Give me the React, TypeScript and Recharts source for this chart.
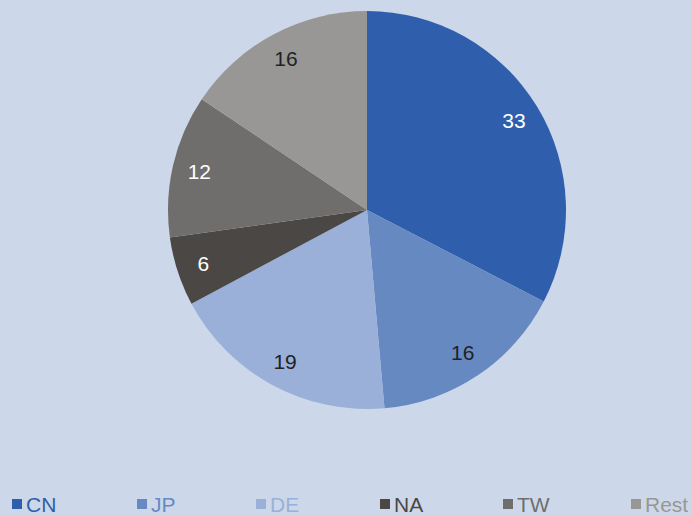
import { Cell, Pie, PieChart } from "recharts";

// shares in %, labels show them rounded
const labels = ["CN", "JP", "DE", "NA", "TW", "Rest"];
const values = [32.6, 16.0, 18.6, 5.6, 11.6, 15.6];
const colors = ["#2F5FAC", "#6689C2", "#9AB0D8", "#4B4745", "#6F6E6C", "#999795"];
const labelColors = ["#FFFFFF", "#222222", "#222222", "#FFFFFF", "#FFFFFF", "#222222"];

const DATA = labels.map((name, i) => ({ name, value: values[i] }));

// legend item x positions (px), spacing in the original is uneven
const LEGEND_LEFT = [12, 137, 256, 380, 503, 631];

const FONT = "'Liberation Sans', Arial, sans-serif";
const RADIAN = Math.PI / 180;

function renderLabel(props: any) {
  const { cx, cy, midAngle, index, value } = props;
  const r = 172;
  const x = cx + r * Math.cos(-midAngle * RADIAN);
  const y = cy + r * Math.sin(-midAngle * RADIAN);
  return (
    <text
      x={x}
      y={y}
      fill={labelColors[index]}
      textAnchor="middle"
      dominantBaseline="central"
      fontSize={21}
      fontFamily={FONT}
    >
      {Math.round(value)}
    </text>
  );
}

export default function App() {
  return (
    <div
      style={{
        position: "fixed",
        left: 0,
        top: 0,
        width: 691,
        height: 515,
        background: "#CCD8EA",
        overflow: "hidden",
      }}
    >
      <PieChart width={691} height={515} margin={{ top: 0, right: 0, bottom: 0, left: 0 }}>
        <Pie
          data={DATA}
          dataKey="value"
          cx={367}
          cy={210}
          outerRadius={199}
          startAngle={90}
          endAngle={-270}
          stroke="none"
          label={renderLabel}
          labelLine={false}
          isAnimationActive={false}
        >
          {DATA.map((d, i) => (
            <Cell key={d.name} fill={colors[i]} />
          ))}
        </Pie>
      </PieChart>

      {labels.map((name, i) => (
        <div
          key={name}
          style={{
            position: "absolute",
            left: LEGEND_LEFT[i],
            top: 495,
            height: 20,
            fontFamily: FONT,
            fontSize: 21,
            lineHeight: "20px",
            color: colors[i],
            whiteSpace: "nowrap",
          }}
        >
          <span
            style={{
              display: "inline-block",
              width: 10,
              height: 10,
              background: colors[i],
              marginRight: 4,
              marginBottom: 3,
            }}
          />
          {name}
        </div>
      ))}
    </div>
  );
}
